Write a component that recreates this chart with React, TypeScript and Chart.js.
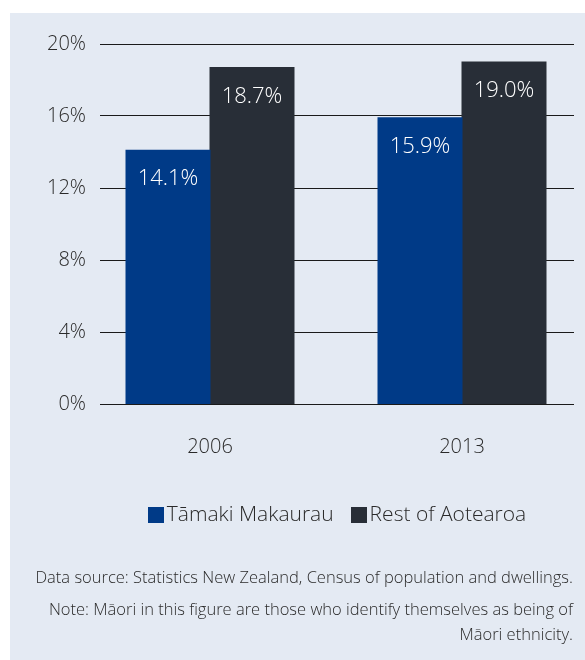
import React, { useEffect, useRef } from 'react';
import { Chart, registerables } from 'chart.js';

Chart.register(...registerables);

const categories = ['2006', '2013'];
const seriesNames = ['Tāmaki Makaurau', 'Rest of Aotearoa'];
const tamakiMakaurau = [14.1, 15.9];
const restOfAotearoa = [18.7, 19.0];
const seriesColors = ['#003a87', '#282e37'];
const yMin = 0;
const yMax = 20;
const yStep = 4;
const sourceNote = 'Data source: Statistics New Zealand, Census of population and dwellings.';
const noteLines = [
  'Note: Māori in this figure are those who identify themselves as being of',
  'Māori ethnicity.',
];

const FONT = '"Open Sans", "Noto Sans", sans-serif';
const TEXT = '#2a2a2a';

const valueLabels = {
  id: 'valueLabels',
  afterDatasetsDraw(chart: any) {
    const ctx = chart.ctx;
    ctx.save();
    ctx.font = `300 22px ${FONT}`;
    ctx.fillStyle = '#ffffff';
    ctx.textAlign = 'center';
    ctx.textBaseline = 'middle';
    chart.data.datasets.forEach((ds: any, di: number) => {
      const meta = chart.getDatasetMeta(di);
      meta.data.forEach((el: any, i: number) => {
        const v = ds.data[i].y;
        ctx.fillText(v.toFixed(1) + '%', el.x, el.y + 29);
      });
    });
    ctx.restore();
  },
};

const customLegend = {
  id: 'customLegend',
  afterDraw(chart: any) {
    const ctx = chart.ctx;
    const { left, right, bottom } = chart.chartArea;
    ctx.save();
    ctx.font = `300 21px ${FONT}`;
    ctx.textBaseline = 'middle';
    ctx.textAlign = 'left';
    const box = 16;
    const gap = 3;
    const spacing = 17;
    const items = chart.data.datasets.map((ds: any) => ({
      text: ds.label,
      color: ds.backgroundColor,
      w: ctx.measureText(ds.label).width,
    }));
    const total =
      items.reduce((s: number, it: any) => s + box + gap + it.w, 0) + spacing * (items.length - 1);
    let x = (left + right) / 2 - total / 2;
    const cy = bottom + 111;
    items.forEach((it: any) => {
      ctx.fillStyle = it.color;
      ctx.fillRect(Math.round(x), Math.round(cy - box / 2), box, box);
      ctx.fillStyle = TEXT;
      ctx.fillText(it.text, x + box + gap, cy);
      x += box + gap + it.w + spacing;
    });
    ctx.restore();
  },
};

export default function App() {
  const canvasRef = useRef<HTMLCanvasElement | null>(null);

  useEffect(() => {
    if (!canvasRef.current) return;
    const chart = new Chart(canvasRef.current, {
      type: 'bar',
      data: {
        datasets: [
          {
            label: seriesNames[0],
            data: tamakiMakaurau.map((v, i) => ({ x: i, y: v })),
            backgroundColor: seriesColors[0],
            borderWidth: 0,
            inflateAmount: 0.5,
            categoryPercentage: 2 / 3,
            barPercentage: 1,
          },
          {
            label: seriesNames[1],
            data: restOfAotearoa.map((v, i) => ({ x: i, y: v })),
            backgroundColor: seriesColors[1],
            borderWidth: 0,
            inflateAmount: 0.5,
            categoryPercentage: 2 / 3,
            barPercentage: 1,
          },
        ] as any,
      },
      options: {
        responsive: false,
        animation: false,
        layout: { padding: { top: 44, left: 0, right: 11, bottom: 0 } },
        plugins: {
          legend: { display: false },
          tooltip: { enabled: false },
          title: { display: false },
        },
        scales: {
          x: {
            type: 'linear',
            offset: false,
            min: -110 / 252,
            max: -110 / 252 + 474 / 252,
            grid: { display: false, offset: false },
            border: { display: false },
            ticks: {
              stepSize: 1,
              includeBounds: false,
              padding: 23,
              color: TEXT,
              font: { family: FONT, size: 20, weight: '300' },
              callback: (v: any) => categories[v as number] ?? '',
              maxRotation: 0,
              autoSkip: false,
            },
            afterFit: (scale: any) => {
              scale.height = 256;
            },
          },
          y: {
            min: yMin,
            max: yMax,
            grid: { color: '#1a1a1a', lineWidth: 1, drawTicks: false },
            border: { display: false },
            ticks: {
              stepSize: yStep,
              padding: 14,
              color: TEXT,
              font: { family: FONT, size: 20, weight: '300' },
              callback: (v: any) => `${v}%`,
            },
            afterFit: (scale: any) => {
              scale.width = 100;
            },
          },
        },
      } as any,
      plugins: [valueLabels, customLegend],
    });
    return () => chart.destroy();
  }, []);

  return (
    <div style={{ position: 'fixed', left: 0, top: 0, width: 585, height: 660, background: '#ffffff', overflow: 'hidden' }}>
      <div style={{ position: 'absolute', left: 10, top: 13, right: 0, bottom: 0, background: '#e4eaf3' }} />
      <canvas ref={canvasRef} width={585} height={660} style={{ position: 'absolute', left: 0, top: 0 }} />
      <div
        style={{
          position: 'absolute',
          right: 12,
          top: 565,
          fontFamily: FONT,
          fontWeight: 300,
          fontSize: 16.5,
          lineHeight: '24px',
          color: TEXT,
          textAlign: 'right',
          whiteSpace: 'nowrap',
        }}
      >
        {sourceNote}
      </div>
      <div
        style={{
          position: 'absolute',
          right: 12,
          top: 596,
          fontFamily: FONT,
          fontWeight: 300,
          fontSize: 16.5,
          lineHeight: '25px',
          color: TEXT,
          textAlign: 'right',
          whiteSpace: 'nowrap',
        }}
      >
        {noteLines.map((l, i) => (
          <div key={i}>{l}</div>
        ))}
      </div>
    </div>
  );
}
